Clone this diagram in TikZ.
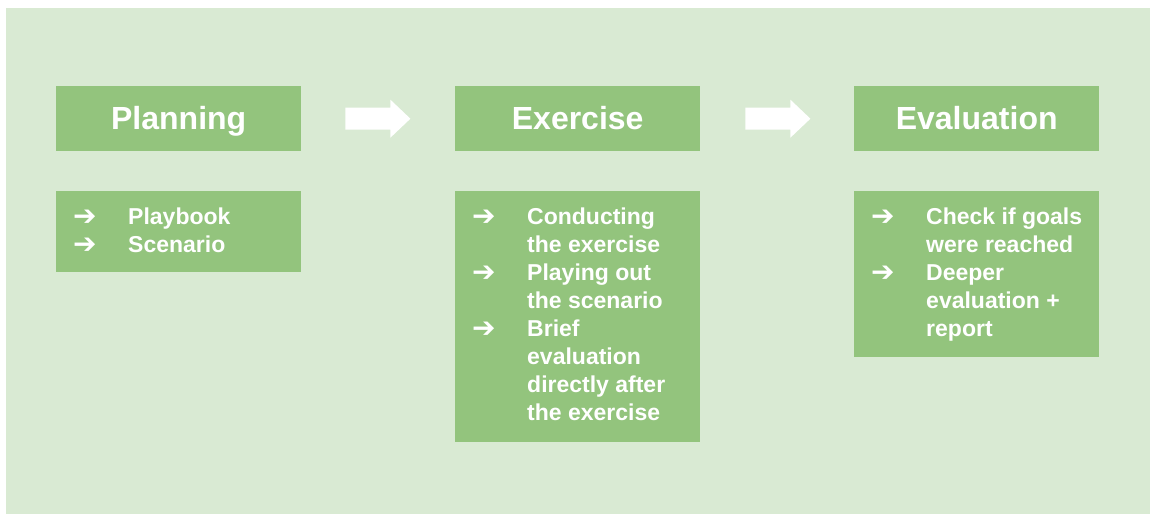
\documentclass[tikz,border=0pt]{standalone}
\usepackage{fontspec}
\usetikzlibrary{calc}
\setmainfont{Liberation Sans}
\newfontfamily\symfont{DejaVu Sans}
\definecolor{bgreen}{HTML}{D9EAD3}
\definecolor{boxgreen}{HTML}{93C47D}
\begin{document}
\begin{tikzpicture}[x=1pt,y=-1pt,
  hdr/.style={draw=none,fill=boxgreen,anchor=north west,minimum width=245pt,minimum height=65pt,inner sep=0pt},
  lst/.style={draw=none,fill=boxgreen,anchor=north west,minimum width=245pt,inner sep=0pt},
  title/.style={text=white,font=\fontsize{32}{36}\selectfont\bfseries,anchor=base,inner sep=0pt},
  item/.style={text=white,font=\fontsize{23}{28}\selectfont\bfseries,anchor=base west,inner sep=0pt},
  bul/.style={text=white,font=\fontsize{28}{28}\selectfont\symfont\bfseries,anchor=base west,inner sep=0pt},
  bigarrow/.style={fill=white,draw=none}]
\useasboundingbox (0,0) rectangle (1150,514);
\fill[bgreen] (6,8) rectangle (1150,514);
% headers
\node[hdr] (h1) at (56,86) {};
\node[hdr] (h2) at (455,86) {};
\node[hdr] (h3) at (854,86) {};
\node[title] (t1) at ($(h1.north)+(0,43)$) {Planning};
\node[title] (t2) at ($(h2.north)+(0,43)$) {Exercise};
\node[title] (t3) at ($(h3.north)+(0,43)$) {Evaluation};
% list boxes
\node[lst,minimum height=81pt] (l1) at (56,191) {};
\node[lst,minimum height=251pt] (l2) at (455,191) {};
\node[lst,minimum height=166pt] (l3) at (854,191) {};
% big arrows
\fill[bigarrow] ($(h1.east)+(44,-11)$) -- ++(45,0) -- ++(0,-8) -- ++(20,19) -- ++(-20,19) -- ++(0,-8) -- ++(-45,0) -- cycle;
\fill[bigarrow] ($(h2.east)+(45,-11)$) -- ++(45,0) -- ++(0,-8) -- ++(20,19) -- ++(-20,19) -- ++(0,-8) -- ++(-45,0) -- cycle;
% list 1
\foreach \i/\b/\t in {0/1/Playbook,1/1/Scenario}{
  \node[item] (a\i) at ($(l1.north west)+(72,33+28*\i)$) {\t};
  \ifnum\b=1 \node[bul] (ab\i) at ($(l1.north west)+(17,34+28*\i)$) {➔};\fi
}
% list 2
\foreach \i/\b/\t in {0/1/Conducting,1/0/the exercise,2/1/Playing out,3/0/the scenario,4/1/Brief,5/0/evaluation,6/0/directly after,7/0/the exercise}{
  \node[item] (b\i) at ($(l2.north west)+(72,33+28*\i)$) {\t};
  \ifnum\b=1 \node[bul] (bb\i) at ($(l2.north west)+(17,34+28*\i)$) {➔};\fi
}
% list 3
\foreach \i/\b/\t in {0/1/Check if goals,1/0/were reached,2/1/Deeper,3/0/evaluation +,4/0/report}{
  \node[item] (c\i) at ($(l3.north west)+(72,33+28*\i)$) {\t};
  \ifnum\b=1 \node[bul] (cb\i) at ($(l3.north west)+(17,34+28*\i)$) {➔};\fi
}
\end{tikzpicture}
\end{document}
